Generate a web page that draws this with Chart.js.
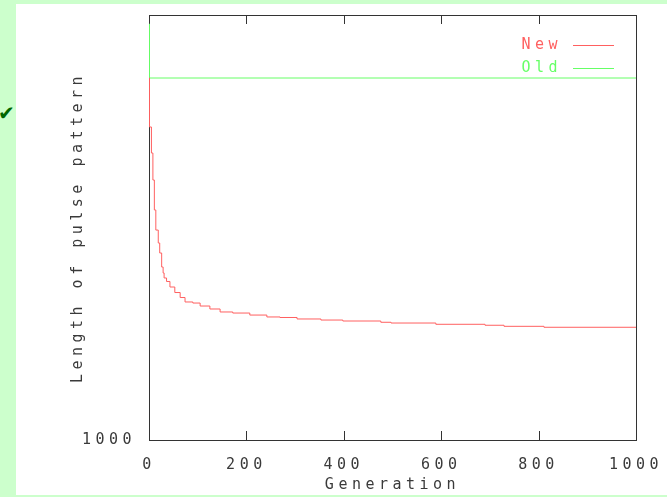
<!DOCTYPE html>
<html>
<head>
<meta charset="utf-8">
<script src="https://cdn.jsdelivr.net/npm/chart.js@4/dist/chart.umd.min.js"></script>
<style>
  body { margin: 0; background: #ccffcc; width: 667px; height: 497px; position: relative; overflow: hidden; }
  #sheet { position: absolute; left: 16px; top: 4px; width: 651px; height: 491px; background: #fff; }
  #tick { position: absolute; left: -2px; top: 101px; color: #006600; font: 20px 'DejaVu Sans', sans-serif; }
  canvas { position: absolute; left: 0; top: 0; }
</style>
</head>
<body>
<div id="sheet"></div>
<div id="tick">✔</div>
<canvas id="chart" width="667" height="497"></canvas>
<script>
// values
const newGenerations = [0, 1, 5, 8, 11, 14, 19, 22, 26, 29, 31, 36, 43, 53, 64, 74, 90, 105, 125, 146, 172, 207, 242, 269, 304, 353, 398, 476, 497, 589, 690, 729, 811, 1000];
const newLength = [4407, 3946, 3701, 3447, 3165, 2976, 2854, 2760, 2628, 2572, 2525, 2492, 2440, 2388, 2341, 2299, 2289, 2261, 2233, 2205, 2195, 2176, 2158, 2153, 2139, 2129, 2120, 2108, 2101, 2089, 2080, 2070, 2061, 2061];
const oldGenerations = [0, 1, 1000];
const oldLength = [4915, 4407, 4407];
const xTickValues = [0, 200, 400, 600, 800, 1000];
const yTickValues = [1000];

const RED = '#ff6060';
const GREEN = '#66ff66';
const INK = '#3a3a3a';

Chart.defaults.font.family = "'DejaVu Sans Mono', monospace";
Chart.defaults.font.size = 15;
Chart.defaults.color = INK;

const spacing = {
  id: 'spacing',
  beforeUpdate(chart) { chart.ctx.letterSpacing = '4.5px'; },
  beforeDraw(chart) { chart.ctx.letterSpacing = '4.5px'; }
};

// gnuplot style box with inward tics on top and bottom
const frame = {
  id: 'frame',
  beforeDatasetsDraw(chart) {
    const { ctx, chartArea: a, scales: { x } } = chart;
    ctx.save();
    ctx.strokeStyle = '#333';
    ctx.lineWidth = 1;
    ctx.strokeRect(a.left + 0.5, a.top + 0.5, a.right - a.left, a.bottom - a.top);
    ctx.beginPath();
    xTickValues.slice(1, -1).forEach(v => {
      const px = Math.round(x.getPixelForValue(v)) + 0.5;
      ctx.moveTo(px, a.bottom);
      ctx.lineTo(px, a.bottom - 9);
      ctx.moveTo(px, a.top);
      ctx.lineTo(px, a.top + 9);
    });
    ctx.stroke();
    ctx.restore();
  }
};

const keyBox = {
  id: 'keyBox',
  afterDatasetsDraw(chart) {
    const { ctx, chartArea: a } = chart;
    ctx.save();
    ctx.font = "15px 'DejaVu Sans Mono', monospace";
    ctx.letterSpacing = '4.5px';
    ctx.textAlign = 'right';
    ctx.textBaseline = 'middle';
    chart.data.datasets.forEach((ds, i) => {
      const y = a.top + 30 + i * 23;
      ctx.fillStyle = ds.borderColor;
      ctx.fillText(ds.label, a.right - 74, y);
      ctx.strokeStyle = ds.borderColor;
      ctx.lineWidth = 1;
      ctx.beginPath();
      ctx.moveTo(a.right - 63, Math.round(y) + 0.5);
      ctx.lineTo(a.right - 22, Math.round(y) + 0.5);
      ctx.stroke();
    });
    ctx.restore();
  }
};

new Chart(document.getElementById('chart'), {
  type: 'line',
  data: {
    datasets: [
      {
        label: 'New',
        data: newGenerations.map((g, i) => ({ x: g, y: newLength[i] })),
        borderColor: RED,
        borderWidth: 1,
        pointRadius: 0,
        stepped: 'before'
      },
      {
        label: 'Old',
        data: oldGenerations.map((g, i) => ({ x: g, y: oldLength[i] })),
        borderColor: GREEN,
        borderWidth: 1,
        pointRadius: 0,
        stepped: 'before'
      }
    ]
  },
  options: {
    responsive: false,
    animation: false,
    devicePixelRatio: 1,
    layout: { padding: { left: 0, top: 15, right: 31, bottom: 0 } },
    plugins: { legend: { display: false }, tooltip: { enabled: false } },
    scales: {
      x: {
        type: 'linear',
        min: 0,
        max: 1000,
        afterBuildTicks: s => { s.ticks = xTickValues.map(v => ({ value: v })); },
        afterFit: s => { s.height = 57; s.paddingLeft = 0; s.paddingRight = 0; },
        grid: { display: false },
        border: { display: false },
        ticks: { padding: 8, maxRotation: 0, color: INK, callback: v => String(v) },
        title: { display: true, text: 'Generation', color: INK, padding: { top: 0, bottom: 3 } }
      },
      y: {
        type: 'linear',
        min: 1000,
        max: 5000,
        afterBuildTicks: s => { s.ticks = yTickValues.map(v => ({ value: v })); },
        afterFit: s => { s.width = 149; s.paddingTop = 0; s.paddingBottom = 0; },
        grid: { display: false },
        border: { display: false },
        ticks: { padding: 5, color: INK, callback: v => String(v) },
        title: { display: true, text: 'Length of pulse pattern', color: INK, padding: { top: 69, bottom: 0 } }
      }
    }
  },
  plugins: [spacing, frame, keyBox]
});
</script>
</body>
</html>
